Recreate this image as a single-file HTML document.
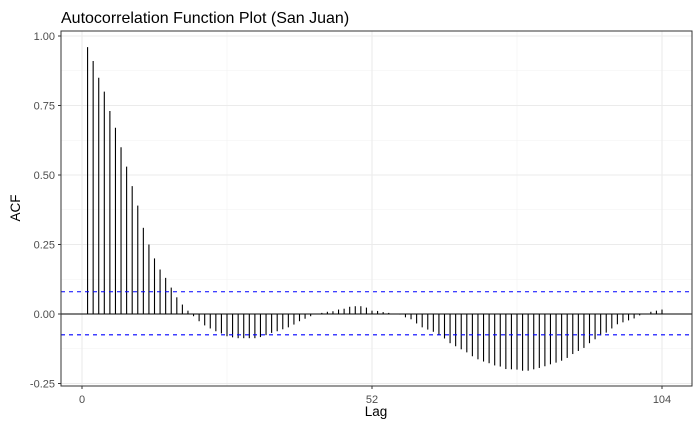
<!DOCTYPE html>
<html><head><meta charset="utf-8"><style>
body{margin:0;background:#fff;font-family:"Liberation Sans",sans-serif}
</style></head><body>
<svg id="c" width="700" height="432" xmlns="http://www.w3.org/2000/svg" font-family="Liberation Sans, sans-serif"></svg>
<script>
const acfValues=[0.96,0.91,0.85,0.80,0.73,0.67,0.60,0.53,0.46,0.39,0.31,0.25,0.20,0.16,0.13,0.095,0.06,0.034,0.012,
-0.008,-0.026,-0.041,-0.052,-0.062,-0.07,-0.08,-0.084,-0.087,-0.087,-0.087,-0.087,-0.083,-0.076,-0.068,-0.062,-0.055,-0.048,-0.038,-0.026,-0.017,-0.008,-0.001,
0.004,0.008,0.01,0.016,0.019,0.026,0.028,0.028,0.023,0.012,0.011,0.007,0.004,0.001,-0.002,
-0.012,-0.019,-0.034,-0.048,-0.056,-0.064,-0.074,-0.088,-0.105,-0.116,-0.127,-0.138,-0.152,-0.163,-0.171,-0.177,-0.185,-0.189,-0.198,-0.199,-0.2,-0.204,-0.204,
-0.199,-0.194,-0.188,-0.181,-0.175,-0.168,-0.158,-0.144,-0.133,-0.122,-0.105,-0.091,-0.077,-0.067,-0.052,-0.037,-0.03,-0.023,-0.016,-0.005,-0.001,0.008,0.012,0.016];
const ciBounds=[0.08,-0.075];
const yTicks=[1.00,0.75,0.50,0.25,0.00,-0.25];
const xTicks=[0,52,104];
const NS="http://www.w3.org/2000/svg";
const svg=document.getElementById('c');
const L=61,R=692,T=31,B=386;
const x=v=>82+v*(580/104);
const y=v=>314-v*278;
function el(t,a,p){const e=document.createElementNS(NS,t);for(const k in a)e.setAttribute(k,a[k]);(p||svg).appendChild(e);return e;}
el('rect',{x:L,y:T,width:R-L,height:B-T,fill:'#fff'});
for(let i=0;i<yTicks.length-1;i++){const v=(yTicks[i]+yTicks[i+1])/2;const g=el('line',{x1:L,x2:R,y1:y(v),y2:y(v),stroke:'#f2f2f2','stroke-width':0.6});}
for(let i=0;i<xTicks.length-1;i++){const v=(xTicks[i]+xTicks[i+1])/2;const g=el('line',{y1:T,y2:B,x1:x(v),x2:x(v),stroke:'#f2f2f2','stroke-width':0.6});}
yTicks.forEach(v=>{const g=el('line',{x1:L,x2:R,y1:y(v),y2:y(v),stroke:'#ebebeb','stroke-width':1.1});
const t=el('text',{x:55,y:y(v)+4,'text-anchor':'end','font-size':11,fill:'#4d4d4d'});t.textContent=v.toFixed(2);
el('line',{x1:L-3,x2:L,y1:y(v),y2:y(v),stroke:'#333'});});
xTicks.forEach(v=>{const g=el('line',{y1:T,y2:B,x1:x(v),x2:x(v),stroke:'#ebebeb','stroke-width':1.1});
const t=el('text',{x:x(v),y:B+17,'text-anchor':'middle','font-size':11,fill:'#4d4d4d'});t.textContent=v;
el('line',{y1:B,y2:B+3,x1:x(v),x2:x(v),stroke:'#333'});});
const z=el('line',{x1:L,x2:R,y1:y(0),y2:y(0),stroke:'#000','stroke-width':1.1});

acfValues.forEach((v,i)=>{const b=el('line',{x1:x(i+1),x2:x(i+1),y1:y(0),y2:y(v),stroke:'#000','stroke-width':1.1});

});
ciBounds.forEach(v=>{const c=el('line',{x1:L,x2:R,y1:y(v),y2:y(v),stroke:'#0000ff','stroke-width':1.1,'stroke-dasharray':'4,4'});

});
const bd=el('rect',{x:L,y:T,width:R-L,height:B-T,fill:'none',stroke:'#333','stroke-width':1});

let t=el('text',{x:61,y:23,'font-size':16,fill:'#000'});t.textContent='Autocorrelation Function Plot (San Juan)';

t=el('text',{x:376,y:416,'font-size':13.5,'text-anchor':'middle',fill:'#000'});t.textContent='Lag';

t=el('text',{x:20,y:208,'font-size':13.5,'text-anchor':'middle',fill:'#000',transform:'rotate(-90 20 208)'});t.textContent='ACF';

</script>
</body></html>
